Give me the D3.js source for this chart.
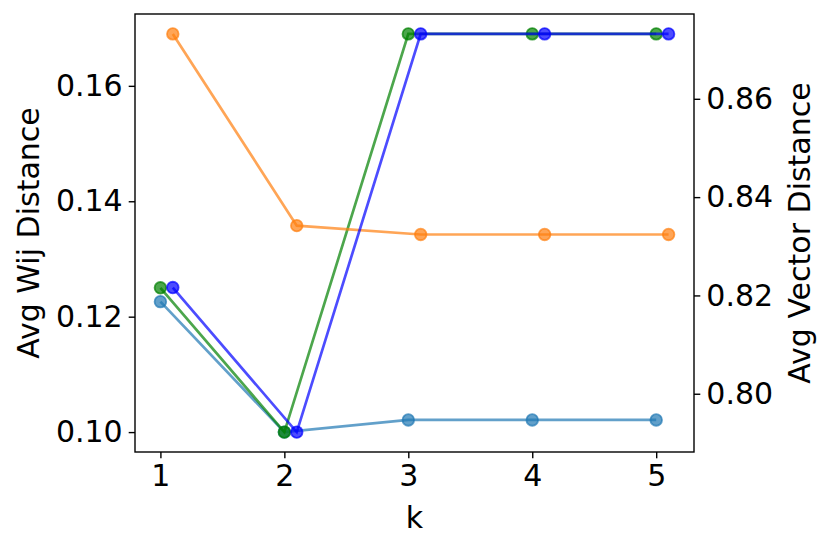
<!DOCTYPE html>
<html>
<head>
<meta charset="utf-8">
<script src="https://cdn.jsdelivr.net/npm/d3@7"></script>
<style>
  body { margin: 0; background: #fff; }
  text { font-family: "DejaVu Sans", sans-serif; fill: #000; }
</style>
</head>
<body>
<div class="container"></div>
<script>
// data
const kValues = [1, 2, 3, 4, 5]
const kShift = 0.1                       // right-axis series are drawn at k + 0.1
const wijTab = [0.1226, 0.1000, 0.1021, 0.1021, 0.1021]   // tab:blue, left axis
const wijGreen = [0.1250, 0.1000, 0.1690, 0.1690, 0.1690] // green, left axis
const vecOrange = [0.8732, 0.8342, 0.8324, 0.8324, 0.8324] // orange, right axis
const vecBlue = [0.8216, 0.7922, 0.8732, 0.8732, 0.8732]   // blue, right axis
const leftTicks = [0.10, 0.12, 0.14, 0.16]
const rightTicks = [0.80, 0.82, 0.84, 0.86]

const width = 831, height = 549
const m = {left: 135, right: 694, top: 14, bottom: 452}

const svg = d3.select('.container').append('svg')
    .attr('width', width).attr('height', height)

// matplotlib-like 5% margins
function padded(vals) {
    const lo = d3.min(vals), hi = d3.max(vals), p = (hi - lo) * 0.05
    return [lo - p, hi + p]
}

const xAll = kValues.concat(kValues.map(k => k + kShift))
const x = d3.scaleLinear().domain(padded(xAll)).range([m.left, m.right])
const yL = d3.scaleLinear().domain(padded(wijTab.concat(wijGreen))).range([m.bottom, m.top])
const yR = d3.scaleLinear().domain(padded(vecOrange.concat(vecBlue))).range([m.bottom, m.top])

const fontSize = 30

// axes
const xAxis = svg.append('g').attr('transform', `translate(0,${m.bottom})`)
    .call(d3.axisBottom(x).tickValues(kValues).tickFormat(d3.format('d')).tickSize(6.3).tickPadding(6))
const lAxis = svg.append('g').attr('transform', `translate(${m.left},0)`)
    .call(d3.axisLeft(yL).tickValues(leftTicks).tickFormat(d3.format('.2f')).tickSize(6.3).tickPadding(6))
const rAxis = svg.append('g').attr('transform', `translate(${m.right},0)`)
    .call(d3.axisRight(yR).tickValues(rightTicks).tickFormat(d3.format('.2f')).tickSize(6.3).tickPadding(6))

;[xAxis, lAxis, rAxis].forEach(a => {
    a.select('.domain').remove()
    a.selectAll('.tick line').attr('stroke', '#000').attr('stroke-width', 1.4)
    a.selectAll('.tick text').style('font-size', fontSize + 'px')
        .style('font-family', '"DejaVu Sans", sans-serif').attr('fill', '#000')
})

// series
const series = [
    {vals: wijTab, shift: 0, y: yL, color: '#1f77b4'},
    {vals: wijGreen, shift: 0, y: yL, color: '#008000'},
    {vals: vecOrange, shift: kShift, y: yR, color: '#ff7f0e'},
    {vals: vecBlue, shift: kShift, y: yR, color: '#0000ff'}
]

const plot = svg.append('g')
series.forEach(s => {
    const pts = s.vals.map((v, i) => [kValues[i] + s.shift, v])
    const g = plot.append('g')
    g.append('path')
        .attr('d', d3.line().x(d => x(d[0])).y(d => s.y(d[1]))(pts))
        .attr('fill', 'none')
        .attr('stroke', s.color)
        .attr('stroke-opacity', 0.7)
        .attr('stroke-width', 2.7)
    g.selectAll('circle').data(pts).enter().append('circle')
        .attr('cx', d => x(d[0]))
        .attr('cy', d => s.y(d[1]))
        .attr('r', 5.8)
        .attr('fill', s.color)
        .attr('fill-opacity', 0.7)
        .attr('stroke', s.color)
        .attr('stroke-opacity', 0.7)
        .attr('stroke-width', 1.8)
})

// frame
svg.append('rect')
    .attr('x', m.left).attr('y', m.top)
    .attr('width', m.right - m.left).attr('height', m.bottom - m.top)
    .attr('fill', 'none').attr('stroke', '#000').attr('stroke-width', 1.4)

// axis labels
svg.append('text').text('k')
    .attr('x', (m.left + m.right) / 2).attr('y', 528)
    .attr('text-anchor', 'middle').style('font-size', fontSize + 'px')
svg.append('text').text('Avg Wij Distance')
    .attr('transform', `translate(39,${(m.top + m.bottom) / 2}) rotate(-90)`)
    .attr('text-anchor', 'middle').style('font-size', fontSize + 'px')
svg.append('text').text('Avg Vector Distance')
    .attr('transform', `translate(810,${(m.top + m.bottom) / 2}) rotate(-90)`)
    .attr('text-anchor', 'middle').style('font-size', fontSize + 'px')
</script>
</body>
</html>
